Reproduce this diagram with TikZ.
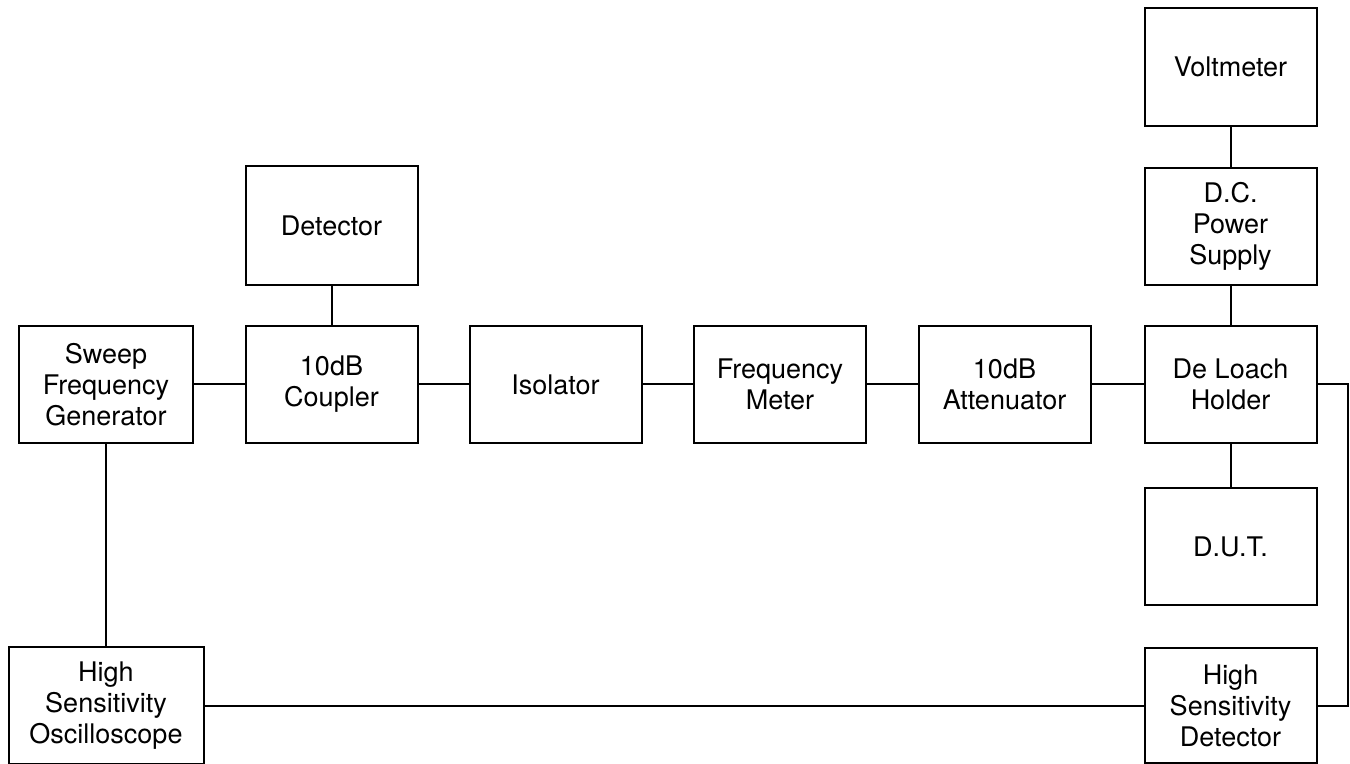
\documentclass[tikz,border=0pt]{standalone}
\usepackage{fontspec}
\setmainfont{TeX Gyre Heros}
\begin{document}
\begin{tikzpicture}[x=0.5pt, y=-0.5pt, line width=1pt,
  unit/.style={draw, align=center, inner sep=0pt, minimum width=86pt,
    minimum height=58.5pt, font=\fontsize{13.5}{15.5}\selectfont}]
  \useasboundingbox (0,0) rectangle (1350,764);

  % --- Main row ---
  \node[unit, minimum width=87pt] (sweep) at (106, 384.5) {Sweep\\Frequency\\Generator};
  \node[unit] (coupler) at (331.5, 384.5) {10dB\\Coupler};
  \node[unit] (isolator) at (555.5, 384.5) {Isolator};
  \node[unit] (freqmeter) at (780, 384.5) {Frequency\\Meter};
  \node[unit] (atten) at (1004.5, 384.5) {10dB\\Attenuator};
  \node[unit] (holder) at (1230.5, 384.5) {De Loach\\Holder};

  % --- Upper branches ---
  \node[unit, minimum height=59.5pt] (detector) at (331.5, 225.5) {Detector};
  \node[unit] (dcsupply) at (1230.5, 226.5) {D.C.\\Power\\Supply};
  \node[unit, minimum height=59pt] (voltmeter) at (1230.5, 67) {Voltmeter};

  % --- Lower branches ---
  \node[unit] (dut) at (1230.5, 546.5) {D.U.T.};
  \node[unit, minimum height=57.5pt] (hsdet) at (1230.5, 705.5) {High\\Sensitivity\\Detector};
  \node[unit, minimum width=97.5pt, minimum height=58.5pt] (scope) at (106, 705.5) {High\\Sensitivity\\Oscilloscope};

  % --- Connections ---
  \draw (sweep) -- (coupler);
  \draw (coupler) -- (isolator);
  \draw (isolator) -- (freqmeter);
  \draw (freqmeter) -- (atten);
  \draw (atten) -- (holder);
  \draw (detector) -- (coupler);
  \draw (voltmeter) -- (dcsupply);
  \draw (dcsupply) -- (holder);
  \draw (holder) -- (dut);
  \draw (sweep) -- (scope);
  \draw (scope) -- (hsdet);
  \draw (holder.east) -- ++(30,0) |- (hsdet.east);
\end{tikzpicture}
\end{document}
